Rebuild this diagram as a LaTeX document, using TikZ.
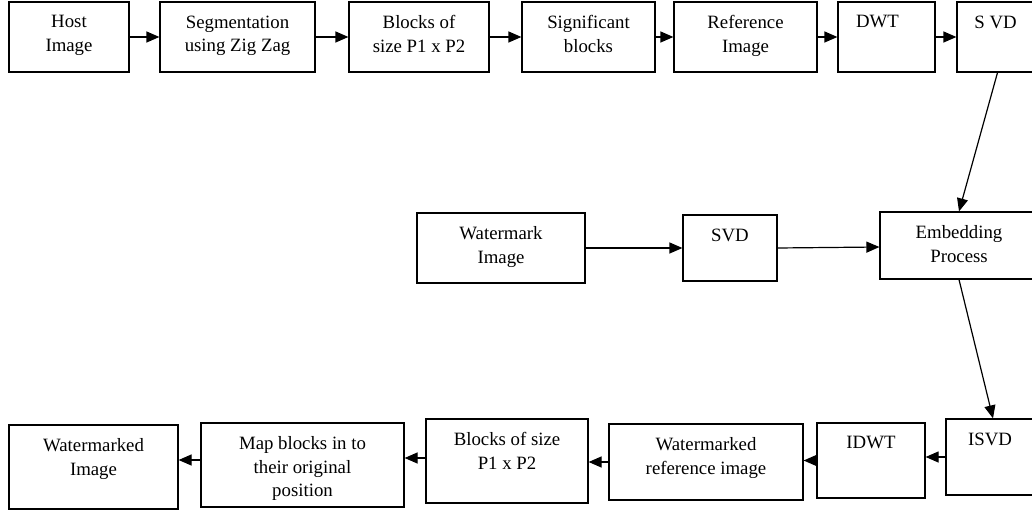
\documentclass[tikz,border=0pt]{standalone}
\usepackage{fontspec}
\setmainfont{Liberation Serif}
\usetikzlibrary{arrows.meta}
\newcommand\mkbox[7][0]{%
  \node[box, minimum width={#5pt-#3pt}, minimum height={#6pt-#4pt}] (#2) at ({(#3+#5)/2},{(#4+#6)/2}) {};
  \node[lbl, xshift=#1pt] (#2-t) at ([yshift=-14pt]#2.north) {#7};
}
\begin{document}
\begin{tikzpicture}[x=1pt,y=-1pt,
  box/.style={draw, line width=1.2pt, inner sep=0pt},
  lbl/.style={anchor=north, align=center, inner sep=0pt, font=\fontsize{18.8}{23.5}\selectfont},
  arr/.style={line width=1.2pt, -{Triangle[length=13pt,width=11pt]}}]
\useasboundingbox (0,0) rectangle (1032,510);
\clip (0,0) rectangle (1032,510);
% top row
\mkbox{host}{9}{2}{129}{72}{Host\\Image}
\mkbox{seg}{160}{2}{315}{72}{Segmentation\\using Zig Zag}
\mkbox{blk}{349}{2}{489}{72}{Blocks of\\size P1 x P2}
\mkbox{sig}{522}{2}{655}{72}{Significant\\blocks}
\mkbox{ref}{674}{2}{817}{72}{Reference\\Image}
\mkbox[-9]{dwt}{838}{2}{935}{72}{DWT}
\mkbox{svda}{957}{2}{1034}{72}{S VD}
% middle row
\mkbox{wm}{417}{213}{585}{283}{Watermark\\Image}
\mkbox{svdb}{683}{215}{777}{281}{SVD}
\mkbox{emb}{880}{212}{1038}{279}{Embedding\\Process}
% bottom row
\mkbox{isvd}{946}{419}{1034}{495}{ISVD}
\mkbox{idwt}{817}{423}{925}{498}{IDWT}
\mkbox{wref}{609}{424}{803}{500}{Watermarked\\reference image}
\mkbox{blkb}{426}{419}{588}{503}{Blocks of size\\P1 x P2}
\mkbox{map}{201}{423}{404}{507}{Map blocks in to\\their original\\position}
\mkbox{wimg}{9}{425}{178}{509}{Watermarked\\Image}
% connectors
\draw[arr] (host) -- (seg);
\draw[arr] (seg) -- (blk);
\draw[arr] (blk) -- (sig);
\draw[arr] (sig) -- (ref);
\draw[arr] (ref) -- (dwt);
\draw[arr] (dwt) -- (svda.west |- dwt);
\draw[arr] ([xshift=2pt]svda.south) -- (emb.north);
\draw[arr] (wm) -- (svdb);
\draw[arr] (svdb.east) -- ([yshift=-1.5pt]emb.west);
\draw[arr] (emb.south) -- ([xshift=3pt]isvd.north);
\draw[arr] (isvd.west) -- (isvd.west -| idwt.east);
\draw[arr] (idwt.west) -- (idwt.west -| wref.east);
\draw[arr] (wref.west) -- (wref.west -| blkb.east);
\draw[arr] ([yshift=3pt]blkb.west) -- ([yshift=3pt]blkb.west -| map.east);
\draw[arr] ([yshift=5pt]map.west) -- ([yshift=5pt]map.west -| wimg.east);
\end{tikzpicture}
\end{document}
